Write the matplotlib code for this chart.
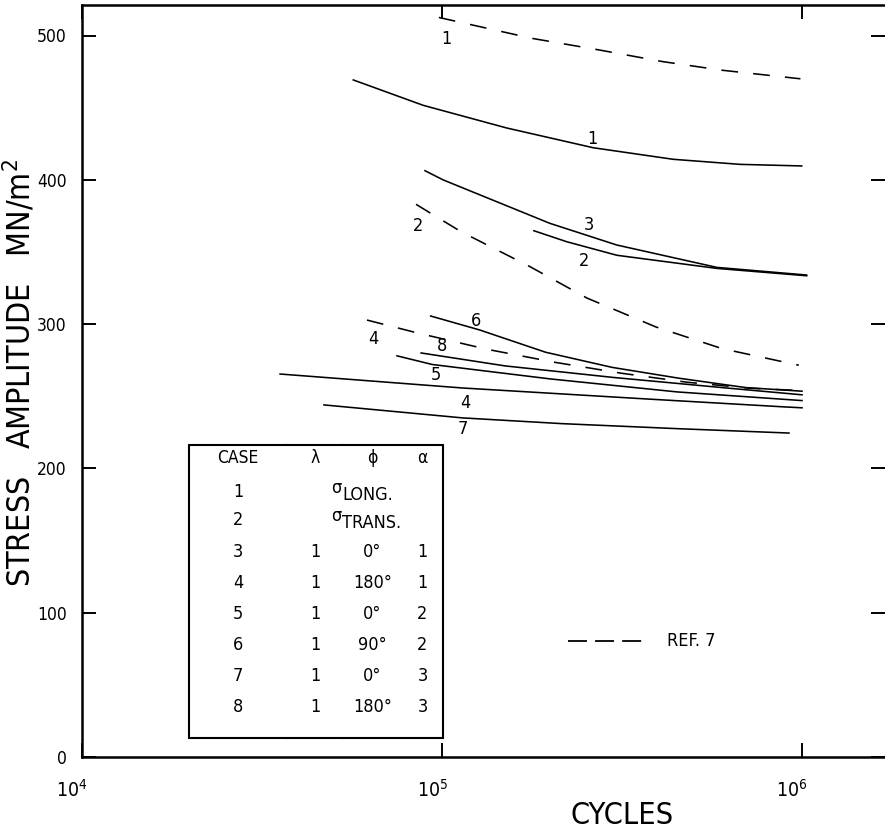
import numpy as np
import matplotlib
matplotlib.use('Agg')
import matplotlib.pyplot as plt
from matplotlib.lines import Line2D
from matplotlib.patches import Rectangle
from matplotlib import font_manager
from matplotlib.transforms import ScaledTranslation

_names = {f.name for f in font_manager.fontManager.ttflist}
if 'Liberation Sans Narrow' in _names:
    FONT = ['Liberation Sans Narrow', 'DejaVu Sans']
else:
    FONT = ['DejaVu Sans']
plt.rcParams['font.family'] = FONT
plt.rcParams['font.stretch'] = 'condensed'
plt.rcParams['mathtext.fontset'] = 'custom'
plt.rcParams['mathtext.rm'] = FONT[0]
plt.rcParams['mathtext.it'] = FONT[0]

# ---------------- data (cycles, stress amplitude MN/m^2) ----------------
ref1_n = [9.8e4, 1.78e5, 2.73e5, 4.08e5, 5.96e5, 9.9e5]
ref1_s = [512.5, 498, 490, 482, 476, 470]
ref2_n = [8.47e4, 1.13e5, 1.75e5, 2.53e5, 3.93e5, 6.0e5, 9.8e5]
ref2_s = [383, 364, 340, 318, 298, 283, 271.5]
ref4_n = [6.19e4, 8.5e4, 1.33e5, 2.05e5, 3.14e5, 4.8e5, 7.2e5, 9.8e5]
ref4_s = [302.8, 294, 282.6, 273.6, 266, 259.7, 255.5, 254]

c1_n = [5.67e4, 8.87e4, 1.513e5, 2.633e5, 4.39e5, 6.73e5, 9.98e5]
c1_s = [469.2, 451.6, 435.9, 422.2, 414.2, 410.7, 409.6]
c2_n = [1.8e5, 2.22e5, 3.06e5, 5.8e5, 1.03e6]
c2_s = [364.7, 357.1, 347.7, 338.6, 333.5]
c3_n = [8.97e4, 1.008e5, 1.995e5, 3.06e5, 5.8e5, 1.03e6]
c3_s = [406.3, 399.9, 369.8, 354.8, 339.3, 334.0]
c4_n = [3.55e4, 1.144e5, 3.71e5, 8.97e5, 1.0e6]
c4_s = [265.4, 255.7, 248.1, 242.6, 242.0]
c5_n = [7.5e4, 9.4e4, 2.0e5, 4.5e5, 1.0e6]
c5_s = [278, 272, 262, 253, 247]
c6_n = [9.3e4, 1.27e5, 1.94e5, 2.97e5, 4.55e5, 6.98e5, 1.0e6]
c6_s = [305.6, 296, 280.5, 270, 262.5, 256, 253.5]
c7_n = [4.7e4, 1.14e5, 2.16e5, 4.55e5, 9.2e5]
c7_s = [244, 235, 231, 227.5, 224.5]
c8_n = [8.75e4, 1.5e5, 3.0e5, 6.0e5, 1.0e6]
c8_s = [280, 271, 263, 256, 251]

# curve labels: (text, cycles, stress)
lbl_text = ['1', '1', '3', '2', '2', '6', '4', '8', '5', '4', '7']
lbl_n = [1.03e5, 2.62e5, 2.56e5, 2.48e5, 8.6e4, 1.24e5, 6.43e4, 1.0e5, 9.6e4, 1.16e5, 1.14e5]
lbl_s = [497.6, 428, 369, 344, 368, 302, 290, 285, 265, 245, 227]

# table
tbl_header = ['CASE', 'λ', 'ϕ', 'α']
tbl_case = ['1', '2', '3', '4', '5', '6', '7', '8']
tbl_lam = ['1', '1', '1', '1', '1', '1']
tbl_phi = ['0°', '180°', '0°', '90°', '0°', '180°']
tbl_alpha = ['1', '1', '2', '2', '3', '3']

yticks = [0, 100, 200, 300, 400, 500]
xticks = [1e4, 1e5, 1e6]
xticklabels = ['$10^{4}$', '$10^{5}$', '$10^{6}$']

# ---------------- figure ----------------
W, H = 885, 835
fig = plt.figure(figsize=(W / 100, H / 100), dpi=100)

def fx(x):
    return x / W

def fy(y):
    return 1 - y / H

x0, x1, yt, yb = 82, 885, 5, 757
ax = fig.add_axes([fx(x0), fy(yb), (x1 - x0) / W, (yb - yt) / H])
ax.set_xscale('log')
ax.set_xlim(1e4, 10 ** (4 + (x1 - x0) / 360))
ax.set_ylim(0, (yb - yt) / 1.443)

for s in ['left', 'bottom', 'top']:
    ax.spines[s].set_linewidth(1.8)
ax.spines['right'].set_visible(False)

ax.set_yticks(yticks)
ax.set_yticklabels([str(v) for v in yticks], fontsize=12.5)
ax.set_xticks(xticks)
ax.set_xticklabels(xticklabels, fontsize=14)
ax.minorticks_off()
ax.tick_params(axis='both', direction='in', length=10, width=1.4,
               top=True, right=True, color='black')
ax.tick_params(axis='y', pad=11)
ax.tick_params(axis='x', pad=16)
_off = ScaledTranslation(6 / 100, 0, fig.dpi_scale_trans)
for lab in ax.get_xticklabels():
    lab.set_horizontalalignment('right')
    lab.set_transform(lab.get_transform() + _off)

solid = dict(color='black', lw=1.15)
dashed = dict(color='black', lw=1.15, linestyle=(0, (10.5, 9.5)))
legend_dash = dict(color='black', lw=1.3, linestyle=(0, (10.5, 4.5)))

for n, s in [(c1_n, c1_s), (c2_n, c2_s), (c3_n, c3_s), (c4_n, c4_s),
             (c5_n, c5_s), (c6_n, c6_s), (c7_n, c7_s), (c8_n, c8_s)]:
    ax.plot(n, s, **solid)
for n, s in [(ref1_n, ref1_s), (ref2_n, ref2_s), (ref4_n, ref4_s)]:
    ax.plot(n, s, **dashed)

for t, n, s in zip(lbl_text, lbl_n, lbl_s):
    ax.text(n, s, t, fontsize=13, ha='center', va='center')

# axis labels
fig.text(fx(20), fy(373), 'STRESS   AMPLITUDE   MN/m$^{2}$', rotation=90,
         ha='center', va='center', fontsize=23)
fig.text(fx(622), fy(815), 'CYCLES', ha='center', va='center', fontsize=22)

# legend REF. 7
fig.add_artist(Line2D([fx(568), fx(643)], [fy(641), fy(641)], **legend_dash))
fig.text(fx(667), fy(641), 'REF. 7', ha='left', va='center', fontsize=13)

# ---------------- table ----------------
tl, tr, tt, tb = 189, 443, 445, 738
hb = 472
c1x, c2x, c3x = 287, 343, 402
body_split = 550
lw_t = 1.5

def hline(y, xa, xb):
    fig.add_artist(Line2D([fx(xa), fx(xb)], [fy(y), fy(y)], color='black', lw=lw_t))

def vline(x, ya, yb_):
    fig.add_artist(Line2D([fx(x), fx(x)], [fy(ya), fy(yb_)], color='black', lw=lw_t))

fig.add_artist(Rectangle((fx(tl), fy(tb)), (tr - tl) / W, (tb - tt) / H,
                         facecolor='white', edgecolor='black', lw=lw_t,
                         transform=fig.transFigure, zorder=3))
hline(hb, tl, tr)
vline(c1x, tt, tb)
vline(c2x, tt, hb)
vline(c3x, tt, hb)
vline(c2x, body_split, tb)
vline(c3x, body_split, tb)

colx = [(tl + c1x) / 2, (c1x + c2x) / 2, (c2x + c3x) / 2, (c3x + tr) / 2]
hy = (tt + hb) / 2
for t, cx in zip(tbl_header, colx):
    fig.text(fx(cx), fy(hy), t, ha='center', va='center', fontsize=12.5, zorder=4)

row_y = [492, 520, 552, 583, 614, 645, 676, 707]
for i, t in enumerate(tbl_case):
    fig.text(fx(colx[0]), fy(row_y[i]), t, ha='center', va='center', fontsize=13, zorder=4)
for i in range(6):
    y = row_y[i + 2]
    fig.text(fx(colx[1]), fy(y), tbl_lam[i], ha='center', va='center', fontsize=13, zorder=4)
    fig.text(fx(colx[2]), fy(y), tbl_phi[i], ha='center', va='center', fontsize=13, zorder=4)
    fig.text(fx(colx[3]), fy(y), tbl_alpha[i], ha='center', va='center', fontsize=13, zorder=4)

fig.text(fx(336), fy(row_y[0] - 4), 'σ', ha='center', va='center', fontsize=13, zorder=4)
fig.text(fx(342), fy(row_y[0] + 3), 'LONG.', ha='left', va='center', fontsize=13, zorder=4)
fig.text(fx(336), fy(row_y[1] - 4), 'σ', ha='center', va='center', fontsize=13, zorder=4)
fig.text(fx(342), fy(row_y[1] + 3), 'TRANS.', ha='left', va='center', fontsize=13, zorder=4)

fig.savefig('out.png', dpi=100, facecolor='white')
